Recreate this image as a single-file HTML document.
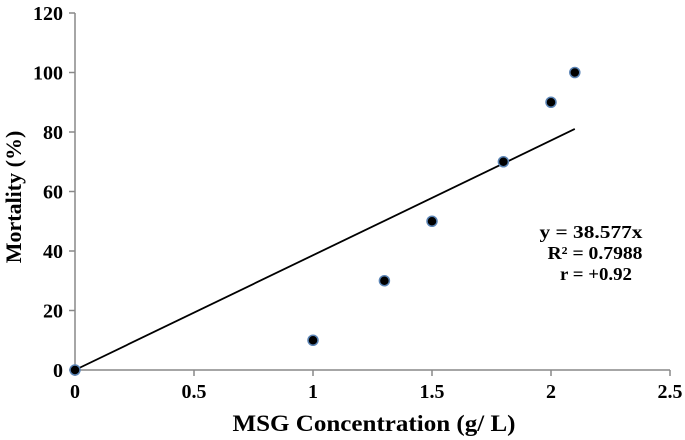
<!DOCTYPE html>
<html><head><meta charset="utf-8"><style>
html,body{margin:0;padding:0;background:#fff;}
svg{display:block;font-family:"Liberation Serif",serif;font-weight:bold;}
</style></head><body>
<svg id="chart" width="685" height="440"></svg>
<script>
const xValues=[0,1,1.3,1.5,1.8,2,2.1];
const yValues=[0,10,30,50,70,90,100];
const xTicks=[0,0.5,1,1.5,2,2.5];
const xTickLabels=["0","0.5","1","1.5","2","2.5"];
const yTicks=[0,20,40,60,80,100,120];
const yTickLabels=["0","20","40","60","80","100","120"];
const slope=38.577;
const trendRange=[0,2.1];

const NS="http://www.w3.org/2000/svg";
const svg=document.getElementById('chart');
const X0=75,X1=670,Y0=370,Y1=13;
const sx=v=>X0+(v-0)/(2.5-0)*(X1-X0);
const sy=v=>Y0-(v-0)/(120-0)*(Y0-Y1);
function mk(tag,attrs,parent){const e=document.createElementNS(NS,tag);for(const k in attrs)e.setAttribute(k,attrs[k]);(parent||svg).appendChild(e);return e;}

const yAxis=mk('line',{x1:X0,y1:Y1,x2:X0,y2:Y0,stroke:'#888','stroke-width':1.5});


const xAxis=mk('line',{x1:X0,y1:Y0,x2:X1,y2:Y0,stroke:'#888','stroke-width':1.5});



yTicks.forEach((v,i)=>{
  const y=sy(v);
  const t=mk('line',{x1:X0-6,y1:y,x2:X0,y2:y,stroke:'#888','stroke-width':1.5});
  
  
  const l=mk('text',{x:X0-12,y:y+7,'text-anchor':'end','font-size':20});
  l.textContent=yTickLabels[i];
  
  
});
xTicks.forEach((v,i)=>{
  const x=sx(v);
  const t=mk('line',{x1:x,y1:Y0,x2:x,y2:Y0+6,stroke:'#888','stroke-width':1.5});
  
  
  const l=mk('text',{x:x,y:Y0+28,'text-anchor':'middle','font-size':20});
  l.textContent=xTickLabels[i];
  
  
});

const tl=mk('line',{x1:sx(trendRange[0]),y1:sy(slope*trendRange[0]),x2:sx(trendRange[1]),y2:sy(slope*trendRange[1]),stroke:'#000','stroke-width':1.8});



xValues.forEach((v,i)=>{
  const c=mk('circle',{cx:sx(v),cy:sy(yValues[i]),r:5,fill:'#000',stroke:'#5b84b5','stroke-width':1.5});
  
  
});

const eq=[["y = 38.577x",591,238,103],["R² = 0.7988",595,259,95],["r = +0.92",596,280,72]];
eq.forEach(e=>{
  const t=mk('text',{x:e[1],y:e[2],'text-anchor':'middle','font-size':18,textLength:e[3],lengthAdjust:'spacingAndGlyphs'});
  t.textContent=e[0];
  
  
});

const xt=mk('text',{x:374,y:431,'text-anchor':'middle','font-size':23,textLength:283,lengthAdjust:'spacingAndGlyphs'});
xt.textContent='MSG Concentration (g/ L)';


const yt=mk('text',{x:0,y:0,'text-anchor':'middle','font-size':22,transform:'translate(21,197) rotate(-90)'});
yt.textContent='Mortality (%)';


</script>
</body></html>
